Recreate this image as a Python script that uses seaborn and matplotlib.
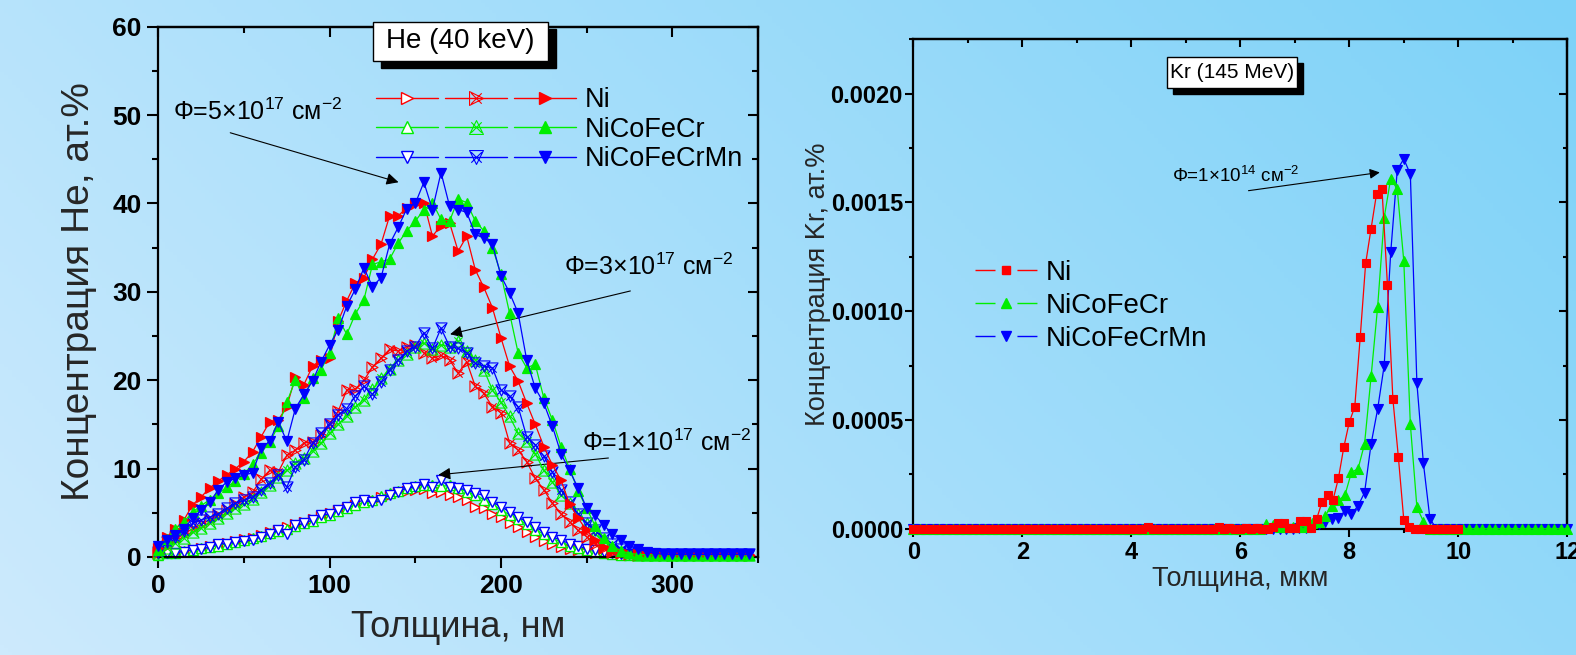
import numpy as np
import matplotlib
matplotlib.use("Agg")
import matplotlib.pyplot as plt
import seaborn as sns
from matplotlib.lines import Line2D
from matplotlib.patches import Rectangle
from matplotlib.path import Path
from matplotlib.legend_handler import HandlerTuple
from matplotlib.colors import LinearSegmentedColormap

sns.set_theme(style="ticks")
plt.rcParams['font.family'] = ['Liberation Sans', 'DejaVu Sans']
plt.rcParams['mathtext.fontset'] = 'custom'
plt.rcParams['mathtext.rm'] = 'Liberation Sans'
plt.rcParams['mathtext.it'] = 'Liberation Sans:italic'
plt.rcParams['mathtext.bf'] = 'Liberation Sans:bold'
plt.rcParams['text.color'] = 'black'
plt.rcParams['axes.edgecolor'] = 'black'
plt.rcParams['xtick.color'] = 'black'
plt.rcParams['ytick.color'] = 'black'
NARROW = ['Liberation Sans Narrow', 'Liberation Sans', 'DejaVu Sans']

# ---------------- He (40 keV) data, depth in nm, concentration in at.% ----------------
he_depth = np.arange(0, 350, 5)

he_ni_1 = [0.3, 0.4, 0.6, 0.7, 0.9, 1.0, 1.2, 1.4, 1.6, 1.8,
           2.0, 2.2, 2.5, 2.8, 3.1, 3.4, 3.7, 4.0, 4.3, 4.6,
           5.0, 5.3, 5.6, 5.9, 6.2, 6.5, 6.8, 7.0, 7.3, 7.5,
           7.6, 7.7, 7.2, 7.3, 7.0, 6.8, 6.5, 5.7, 5.5, 4.9,
           4.5, 3.9, 3.4, 2.8, 2.3, 1.8, 1.5, 1.1, 0.9, 0.8,
           0.6, 0.5, 0.4, 0.3, 0.2, 0.2, 0.2, 0.2, 0.2, 0.2,
           0.2, 0.2, 0.2, 0.2, 0.2, 0.2, 0.2, 0.2, 0.2, 0.2]
he_cr_1 = [0.2, 0.4, 0.5, 0.7, 0.8, 1.0, 1.1, 1.3, 1.5, 1.7,
           1.9, 2.1, 2.4, 2.7, 2.9, 3.2, 3.5, 3.8, 4.1, 4.5,
           4.8, 5.2, 5.5, 5.9, 6.2, 6.5, 6.9, 7.2, 7.5, 7.8,
           8.0, 8.1, 8.2, 8.0, 8.1, 7.8, 7.4, 7.0, 6.5, 6.0,
           5.3, 4.8, 4.3, 3.7, 3.1, 2.6, 2.1, 1.7, 1.3, 1.0,
           0.8, 0.6, 0.4, 0.3, 0.25, 0.25, 0.25, 0.25, 0.25, 0.25,
           0.25, 0.25, 0.25, 0.25, 0.25, 0.25, 0.25, 0.25, 0.25, 0.25]
he_mn_1 = [0.3, 0.4, 0.5, 0.6, 0.8, 0.9, 1.1, 1.5, 1.5, 1.7,
           1.8, 1.9, 2.3, 2.6, 3.0, 2.6, 3.6, 3.8, 4.2, 4.7,
           4.9, 5.3, 5.7, 6.2, 6.4, 6.2, 6.4, 7.0, 7.4, 7.8,
           7.9, 8.3, 7.9, 8.7, 7.9, 7.8, 7.6, 7.2, 7.0, 6.2,
           5.7, 5.1, 4.5, 4.0, 3.4, 2.8, 2.3, 1.9, 1.5, 1.3,
           0.9, 0.8, 0.6, 0.4, 0.35, 0.3, 0.3, 0.3, 0.3, 0.3,
           0.3, 0.3, 0.3, 0.3, 0.3, 0.3, 0.3, 0.3, 0.3, 0.3]

he_ni_3 = [0.5, 1.2, 2.0, 2.6, 3.2, 3.7, 4.2, 4.8, 5.3, 6.0,
           6.8, 7.3, 8.8, 9.8, 9.6, 11.5, 12.1, 12.9, 13.0, 13.8,
           15.1, 16.5, 18.9, 19.0, 20.0, 21.5, 22.5, 23.5, 23.3, 23.8,
           24.0, 23.1, 22.5, 22.8, 22.3, 20.8, 22.1, 19.3, 18.5, 17.0,
           16.3, 12.9, 12.1, 10.8, 8.9, 7.6, 6.1, 4.9, 4.0, 3.0,
           2.3, 1.5, 1.0, 0.6, 0.4, 0.3, 0.2, 0.2, 0.2, 0.2,
           0.2, 0.2, 0.2, 0.2, 0.2, 0.2, 0.2, 0.2, 0.2, 0.2]
he_cr_3 = [0.4, 1.0, 1.6, 2.2, 2.8, 3.3, 3.9, 4.4, 5.0, 5.5,
           6.0, 6.6, 7.4, 8.2, 9.0, 9.8, 10.6, 11.2, 12.0, 12.9,
           14.0, 15.0, 16.0, 17.0, 17.8, 19.0, 20.2, 21.3, 22.3, 23.0,
           23.8, 24.2, 23.5, 24.0, 23.8, 24.4, 23.3, 22.3, 21.2, 18.9,
           17.5, 15.9, 14.0, 13.1, 11.7, 9.8, 8.5, 7.0, 6.1, 4.9,
           3.8, 2.6, 1.8, 1.1, 0.7, 0.4, 0.25, 0.25, 0.25, 0.25,
           0.25, 0.25, 0.25, 0.25, 0.25, 0.25, 0.25, 0.25, 0.25, 0.25]
he_mn_3 = [0.6, 1.7, 2.3, 2.9, 3.8, 4.2, 4.5, 4.9, 5.5, 6.1,
           6.4, 6.8, 7.6, 8.4, 9.3, 7.9, 10.2, 11.0, 12.9, 14.0,
           15.1, 16.1, 16.8, 18.2, 19.3, 18.4, 19.8, 21.2, 22.3, 23.3,
           23.8, 25.4, 23.6, 25.9, 23.8, 23.6, 23.1, 21.9, 21.6, 21.4,
           18.9, 18.2, 17.0, 13.6, 12.7, 11.4, 9.6, 7.6, 6.2, 4.9,
           3.8, 3.0, 2.1, 1.5, 0.9, 0.6, 0.4, 0.3, 0.3, 0.3,
           0.3, 0.3, 0.3, 0.3, 0.3, 0.3, 0.3, 0.3, 0.3, 0.3]

he_ni_5 = [1.0, 2.3, 3.2, 4.2, 5.9, 6.8, 7.8, 8.6, 9.3, 10.0,
           10.8, 11.9, 13.6, 15.3, 15.5, 17.0, 20.4, 19.5, 21.6, 22.3,
           22.5, 26.7, 29.0, 31.0, 31.6, 33.7, 35.4, 38.6, 38.6, 39.5,
           39.9, 40.1, 36.3, 37.5, 37.8, 34.6, 36.3, 32.5, 30.5, 28.2,
           24.8, 21.6, 19.9, 17.4, 15.0, 12.5, 10.4, 8.7, 6.0, 4.4,
           3.0, 1.9, 1.1, 0.7, 0.5, 0.3, 0.3, 0.2, 0.2, 0.2,
           0.2, 0.2, 0.2, 0.2, 0.2, 0.2, 0.2, 0.2, 0.2, 0.2]
he_cr_5 = [0.8, 2.0, 3.2, 4.0, 5.1, 5.8, 6.5, 7.2, 7.9, 8.6,
           9.4, 10.5, 11.8, 13.0, 14.8, 17.5, 20.0, 18.0, 20.2, 21.2,
           23.1, 27.0, 25.2, 27.5, 29.1, 33.1, 33.4, 33.7, 35.5, 36.9,
           38.0, 39.3, 40.1, 38.2, 38.0, 40.5, 40.1, 38.0, 36.9, 35.0,
           32.0, 27.6, 23.1, 21.4, 21.8, 18.0, 15.5, 12.5, 10.0, 7.5,
           5.5, 3.5, 2.2, 1.2, 0.7, 0.4, 0.3, 0.25, 0.25, 0.25,
           0.25, 0.25, 0.25, 0.25, 0.25, 0.25, 0.25, 0.25, 0.25, 0.25]
he_mn_5 = [1.2, 1.9, 2.5, 3.2, 4.4, 5.3, 6.2, 7.6, 8.5, 8.9,
           9.3, 9.5, 12.3, 13.1, 15.3, 13.1, 16.8, 18.4, 19.9, 22.1,
           24.0, 25.7, 28.4, 30.3, 32.7, 30.6, 31.6, 35.4, 37.3, 39.4,
           40.0, 42.4, 39.3, 43.5, 39.7, 39.3, 39.0, 36.5, 36.1, 35.4,
           31.8, 29.9, 27.6, 22.3, 19.1, 17.4, 14.8, 11.7, 9.8, 7.8,
           5.5, 4.7, 3.6, 2.6, 1.9, 1.3, 0.9, 0.6, 0.4, 0.3,
           0.3, 0.3, 0.3, 0.3, 0.3, 0.3, 0.3, 0.3, 0.3, 0.3]

# ---------------- Kr (145 MeV) data, depth in um, concentration in 1e-4 at.% ----------------
kr_depth_ni = np.linspace(0, 10, 101)
kr_depth_hea = np.linspace(0, 12, 101)

kr_ni = [0, 0, 0, 0, 0, 0, 0, 0, 0, 0,
         0, 0, 0, 0, 0, 0, 0, 0, 0, 0,
         0, 0, 0, 0, 0, 0, 0, 0, 0, 0,
         0, 0, 0, 0, 0, 0, 0, 0, 0, 0,
         0, 0, 0, 0.09, 0, 0, 0, 0, 0, 0,
         0, 0, 0, 0, 0, 0, 0.09, 0, 0.05, 0,
         0, 0.05, 0, 0.05, 0, 0, 0.1, 0.27, 0.24, 0.05,
         0.05, 0.36, 0.36, 0.05, 0.44, 1.23, 1.54, 1.31, 2.31, 3.76,
         4.9, 5.6, 8.8, 12.2, 13.8, 15.4, 15.6, 11.2, 5.95, 3.3,
         0.4, 0.09, 0, 0, 0, 0, 0, 0, 0, 0,
         0]
kr_cr = [0, 0, 0, 0, 0, 0, 0, 0, 0, 0,
         0, 0, 0, 0, 0, 0, 0, 0, 0, 0,
         0, 0, 0, 0, 0, 0, 0, 0, 0, 0,
         0, 0, 0, 0, 0, 0, 0, 0, 0, 0,
         0, 0, 0, 0, 0, 0, 0, 0, 0, 0,
         0, 0, 0, 0, 0.2, 0.15, 0.1, 0.1, 0.1, 0.1,
         0.1, 0.27, 0.3, 0.6, 1.06, 1.3, 1.54, 2.6, 2.75, 3.9,
         7.0, 10.2, 14.3, 16.1, 15.6, 12.3, 4.8, 1.0, 0.33, 0,
         0, 0, 0, 0, 0, 0, 0, 0, 0, 0,
         0, 0, 0, 0, 0, 0, 0, 0, 0, 0,
         0]
kr_mn = [0, 0, 0, 0, 0, 0, 0, 0, 0, 0,
         0, 0, 0, 0, 0, 0, 0, 0, 0, 0,
         0, 0, 0, 0, 0, 0, 0, 0, 0, 0,
         0, 0, 0, 0, 0, 0, 0, 0, 0, 0,
         0, 0, 0, 0, 0, 0, 0, 0, 0, 0,
         0, 0, 0, 0, 0, 0, 0, 0, 0, 0.05,
         0.05, 0.1, 0.2, 0.3, 0.45, 0.5, 0.82, 0.67, 1.05, 1.66,
         3.9, 5.5, 7.5, 12.7, 16.5, 17.0, 16.3, 6.7, 3.0, 0.45,
         0, 0, 0, 0, 0, 0, 0, 0, 0, 0,
         0, 0, 0, 0, 0, 0, 0, 0, 0, 0,
         0]

materials = ["Ni", "NiCoFeCr", "NiCoFeCrMn"]
colors = ["#ff0000", "#00ee00", "#0000ff"]
he_markers = [">", "^", "v"]
kr_markers = ["s", "^", "v"]

# triangle outline with an x inside, used for the middle fluence
tri_pts = {">": [(1, 0), (-1, 1), (-1, -1)],
           "^": [(0, 1), (-1, -1), (1, -1)],
           "v": [(0, -1), (-1, 1), (1, 1)]}


def tri_x_marker(key):
    a, b, c = tri_pts[key]
    verts = [a, b, c, a, (-0.75, -0.75), (0.75, 0.75), (-0.75, 0.75), (0.75, -0.75)]
    codes = [Path.MOVETO, Path.LINETO, Path.LINETO, Path.CLOSEPOLY,
             Path.MOVETO, Path.LINETO, Path.MOVETO, Path.LINETO]
    return Path(verts, codes)


# ---------------- figure and gradient background ----------------
W, H = 1576, 655
fig = plt.figure(figsize=(W / 100, H / 100), dpi=100)
bg = fig.add_axes([0, 0, 1, 1], zorder=-10)
gx, gy = np.meshgrid(np.linspace(0, 1, 400), np.linspace(0, 1, 200))
cmap = LinearSegmentedColormap.from_list("bg", ["#cdeafd", "#7dd2f8"])
bg.imshow(0.72 * gx + 0.28 * gy, cmap=cmap, origin="lower", extent=[0, 1, 0, 1],
          aspect="auto", vmin=0, vmax=1)
bg.axis("off")


def fx(px):
    return px / W


def fy(py):
    return 1 - py / H


ax1 = fig.add_axes([fx(158.3), fy(557), fx(758) - fx(158.3), fy(26.7) - fy(557)])
ax2 = fig.add_axes([fx(913.3), fy(528.7), fx(1567.3) - fx(913.3), fy(39.3) - fy(528.7)])
for ax in (ax1, ax2):
    ax.set_facecolor("none")
    for s in ax.spines.values():
        s.set_linewidth(1.6)
        s.set_color("black")


def series(ax, x, y, color, marker, ms, mfc, mew=0.9, lw=0.9, z=2):
    sns.lineplot(x=x, y=y, ax=ax, color=color, marker=marker, markersize=ms,
                 markerfacecolor=mfc, markeredgecolor=color, markeredgewidth=mew,
                 linewidth=lw, clip_on=False, legend=False, zorder=z, estimator=None)


# ---------------- left panel: He ----------------
low = [he_ni_1, he_cr_1, he_mn_1]
mid = [he_ni_3, he_cr_3, he_mn_3]
high = [he_ni_5, he_cr_5, he_mn_5]
for i in range(3):
    series(ax1, he_depth, np.array(low[i]), colors[i], he_markers[i], 7.5, "white", 1.0, z=2 + i * 0.1)
for i in range(3):
    series(ax1, he_depth, np.array(mid[i]), colors[i], tri_x_marker(he_markers[i]), 8, "none",
           0.8, z=3 + i * 0.1)
for i in range(3):
    series(ax1, he_depth, np.array(high[i]), colors[i], he_markers[i], 7.5, colors[i], 0.9, z=4 + i * 0.1)

ax1.set_xlim(0, 350)
ax1.set_ylim(0, 60)
ax1.set_xticks([0, 100, 200, 300], ["0", "100", "200", "300"], fontsize=19, fontweight="bold")
ax1.set_yticks([0, 10, 20, 30, 40, 50, 60], ["0", "10", "20", "30", "40", "50", "60"],
               fontsize=19, fontweight="bold")
ax1.set_xticks([50, 150, 250, 350], minor=True)
ax1.set_yticks([5, 15, 25, 35, 45, 55], minor=True)
ax1.tick_params(which="both", direction="out", width=1.5, top=False, right=False)
ax1.tick_params(which="major", length=8, pad=4)
ax1.tick_params(which="minor", length=4)
ax1.set_xlabel("Толщина, нм", fontsize=26)
ax1.set_ylabel("Концентрация He, ат.%", fontsize=28)
ax1.xaxis.set_label_coords(0.5, -0.1)
ax1.yaxis.set_label_coords(-0.102, 0.5)

top1 = ax1.secondary_xaxis("top")
top1.set_xticks([0, 100, 200, 300, 350])
top1.set_xticks([50, 150, 250], minor=True)
top1.tick_params(which="both", direction="in", labeltop=False, width=1.5)
top1.tick_params(which="major", length=7)
top1.tick_params(which="minor", length=4)
right1 = ax1.secondary_yaxis("right")
right1.set_yticks([0, 10, 20, 30, 40, 50, 60])
right1.set_yticks([5, 15, 25, 35, 45, 55], minor=True)
right1.tick_params(which="both", direction="in", labelright=False, width=1.5)
right1.tick_params(which="major", length=7)
right1.tick_params(which="minor", length=4)
for s in list(top1.spines.values()) + list(right1.spines.values()):
    s.set_linewidth(1.6)

# annotations
ann_kw = dict(arrowprops=dict(arrowstyle="-|>", color="black", lw=0.8,
                              mutation_scale=18, shrinkA=0, shrinkB=0))
ax1.text(8.6, 50.4, "Φ=5×10$^{17}$ см$^{-2}$", fontsize=18, va="center", ha="left")
ax1.annotate("", xy=(140.2, 42.4), xytext=(42, 48.0), **ann_kw)
ax1.text(236.5, 32.8, "Φ=3×10$^{17}$ см$^{-2}$", fontsize=18, va="center", ha="left")
ax1.annotate("", xy=(170.3, 25.2), xytext=(275.5, 30.1), **ann_kw)
ax1.text(247, 12.9, "Φ=1×10$^{17}$ см$^{-2}$", fontsize=18, va="center", ha="left")
ax1.annotate("", xy=(163.5, 9.3), xytext=(262.7, 11.2), **ann_kw)

# legend for He panel: three fluences per material row
he_handles = []
for i in range(3):
    h_low = Line2D([], [], color=colors[i], lw=1, marker=he_markers[i], ms=9,
                   mfc="white", mec=colors[i], mew=1)
    h_mid = Line2D([], [], color=colors[i], lw=1, marker=tri_x_marker(he_markers[i]), ms=10,
                   mfc="none", mec=colors[i], mew=0.8)
    h_high = Line2D([], [], color=colors[i], lw=1, marker=he_markers[i], ms=9,
                    mfc=colors[i], mec=colors[i])
    he_handles.append((h_low, h_mid, h_high))
fig.legend(he_handles, materials, loc="upper left", bbox_to_anchor=(fx(376), fy(87)),
           frameon=False, fontsize=19.5, handlelength=7.4, handletextpad=0.3,
           borderpad=0, borderaxespad=0, labelspacing=0.13,
           handler_map={tuple: HandlerTuple(ndivide=None, pad=0.25)})


def title_box(x0, y0, x1, y1, off, text, size, family):
    fig.patches.append(Rectangle((fx(x0 + off[0]), fy(y1 + off[1])), fx(x1) - fx(x0),
                                 fy(y0) - fy(y1), transform=fig.transFigure,
                                 facecolor="black", edgecolor="black", zorder=5))
    fig.patches.append(Rectangle((fx(x0), fy(y1)), fx(x1) - fx(x0), fy(y0) - fy(y1),
                                 transform=fig.transFigure, facecolor="white",
                                 edgecolor="black", lw=1, zorder=6))
    fig.text(fx((x0 + x1) / 2), fy((y0 + y1) / 2), text, fontsize=size, family=family,
             ha="center", va="center", zorder=7)


title_box(373, 22, 548, 61, (8, 7), "He (40 keV)", 20, ["Liberation Sans", "DejaVu Sans"])

# ---------------- right panel: Kr ----------------
kr_sets = [(kr_depth_ni, kr_ni), (kr_depth_hea, kr_cr), (kr_depth_hea, kr_mn)]
kr_ms = [5.5, 7, 7]
for i in range(3):
    x, v = kr_sets[i]
    series(ax2, x, np.array(v) * 1e-4, colors[i], kr_markers[i], kr_ms[i], colors[i], 0.8,
           lw=0.9, z=4 - i * 0.5)

ax2.set_xlim(0, 12)
ax2.set_ylim(0, 0.00225)
ax2.set_xticks([0, 2, 4, 6, 8, 10, 12], ["0", "2", "4", "6", "8", "10", "12"],
               fontsize=17, fontweight="bold", family=NARROW)
ax2.set_yticks([0, 0.0005, 0.001, 0.0015, 0.002],
               ["0.0000", "0.0005", "0.0010", "0.0015", "0.0020"],
               fontsize=17, fontweight="bold", family=NARROW)
ax2.set_xticks([1, 3, 5, 7, 9, 11], minor=True)
ax2.set_yticks([0.00025, 0.00075, 0.00125, 0.00175, 0.00225], minor=True)
ax2.tick_params(which="both", direction="out", width=1.5, top=False, right=False)
ax2.tick_params(which="major", length=6, pad=3)
ax2.tick_params(axis="y", which="major", pad=1.5)
ax2.tick_params(which="minor", length=3)
ax2.set_xlabel("Толщина, мкм", fontsize=19.5)
ax2.set_ylabel("Концентрация Kr, ат.%", fontsize=19.5)
ax2.xaxis.set_label_coords(0.5, -0.076)
ax2.yaxis.set_label_coords(-0.126, 0.5)

top2 = ax2.secondary_xaxis("top")
top2.set_xticks([0, 2, 4, 6, 8, 10, 12])
top2.set_xticks([1, 3, 5, 7, 9, 11], minor=True)
top2.tick_params(which="both", direction="in", labeltop=False, width=1.5)
top2.tick_params(which="major", length=6)
top2.tick_params(which="minor", length=3)
right2 = ax2.secondary_yaxis("right")
right2.set_yticks([0, 0.0005, 0.001, 0.0015, 0.002])
right2.set_yticks([0.00025, 0.00075, 0.00125, 0.00175], minor=True)
right2.tick_params(which="both", direction="in", labelright=False, width=1.5)
right2.tick_params(which="major", length=6)
right2.tick_params(which="minor", length=3)
for s in list(top2.spines.values()) + list(right2.spines.values()):
    s.set_linewidth(1.6)

ax2.text(4.74, 0.001622, "Φ=1×10$^{14}$ см$^{-2}$", fontsize=13.5, va="center", ha="left",
         family=NARROW)
ax2.annotate("", xy=(8.56, 0.001638), xytext=(6.15, 0.001554),
             arrowprops=dict(arrowstyle="-|>", color="black", lw=0.8, mutation_scale=15,
                             shrinkA=0, shrinkB=0))

kr_handles = [Line2D([], [], color=colors[i], lw=1, ls=(0, (14.4, 15.8)), marker=kr_markers[i],
                     ms=kr_ms[i] + 0.5, mfc=colors[i], mec=colors[i]) for i in range(3)]
fig.legend(kr_handles, materials, loc="upper left", bbox_to_anchor=(fx(975), fy(260)),
           frameon=False, fontsize=20, handlelength=2.23, handletextpad=0.3,
           borderpad=0, borderaxespad=0, labelspacing=0.25)

title_box(1167, 57, 1297, 88, (6, 6), "Kr (145 MeV)", 15, NARROW)

fig.savefig("out.png", dpi=100)
